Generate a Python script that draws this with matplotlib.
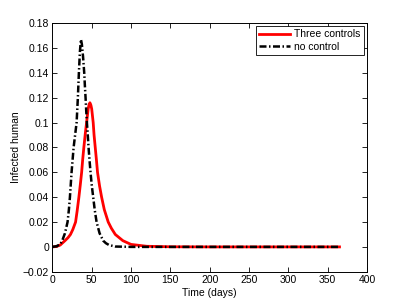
import matplotlib
matplotlib.use("Agg")
import matplotlib.pyplot as plt
from matplotlib.ticker import FuncFormatter, MultipleLocator

plt.rcParams['font.family'] = ['Liberation Sans', 'DejaVu Sans']

# no control series
t_nc = [0, 5, 10, 12.5, 16, 19.3, 21, 22.3, 24.4, 25.7, 27, 28.9, 30.8, 31.6,
        32.4, 33.7, 35, 36.3, 37.5, 39, 40.5, 41.3, 42.2, 43, 43.9, 45, 46,
        47.2, 48.5, 50, 51.9, 53.8, 56.2, 60, 64.6, 68, 72, 80,
        100, 150, 200, 250, 300, 365]
v_nc = [0, 0.0005, 0.002, 0.005, 0.011, 0.02, 0.03, 0.04, 0.06, 0.07, 0.08,
        0.09, 0.10, 0.11, 0.12, 0.14, 0.157, 0.167, 0.163, 0.153, 0.14, 0.13,
        0.12, 0.11, 0.10, 0.09, 0.08, 0.07, 0.06, 0.05, 0.04, 0.03, 0.02,
        0.011, 0.005, 0.003, 0.0015, 0.0003, 0, 0, 0, 0, 0, 0]

# three controls series
t_tc = [0, 5, 10, 16, 20, 23, 26, 29.5, 31.5, 33.7, 35.5, 37.2, 38.5, 40, 42,
        43.5, 45.5, 46.5, 47.7, 49, 50, 51.9, 53, 54.5, 56, 57.4, 60, 62.6,
        66, 68, 71, 75, 80, 89.6, 100, 120, 150, 200, 250, 300, 365]
v_tc = [0, 0.0003, 0.0015, 0.005, 0.0075, 0.01, 0.014, 0.02, 0.029, 0.04,
        0.05, 0.06, 0.07, 0.08, 0.092, 0.10, 0.111, 0.114, 0.116, 0.114,
        0.111, 0.10, 0.09, 0.08, 0.07, 0.06, 0.049, 0.04, 0.03, 0.026, 0.02,
        0.015, 0.01, 0.005, 0.002, 0.0005, 0.0001, 0, 0, 0, 0]

labels = ["Three controls", "no control"]
x_label = "Time (days)"
y_label = "Infected human"

fig = plt.figure(figsize=(4.06, 3.05), dpi=100)
ax = fig.add_axes([0.129, 0.109, 0.775, 0.815])

ax.plot(t_tc, v_tc, color='#ff0000', lw=2.0, label=labels[0])
ax.plot(t_nc, v_nc, color='black', lw=1.8, ls=(0, (2.8, 1.0, 0.6, 1.0)),
        label=labels[1])

ax.set_xlim(0, 400)
ax.set_ylim(-0.02, 0.18)
ax.xaxis.set_major_locator(MultipleLocator(50))
ax.yaxis.set_major_locator(MultipleLocator(0.02))

def fmt(v, pos):
    s = '%g' % round(v, 4)
    return s.replace('-', '\u2212')

ax.yaxis.set_major_formatter(FuncFormatter(fmt))
ax.xaxis.set_major_formatter(FuncFormatter(fmt))
ax.tick_params(direction='in', top=True, right=True, length=3.5, width=0.6,
               labelsize=7.5, pad=2.5)
for s in ax.spines.values():
    s.set_linewidth(0.7)

ax.set_xlabel(x_label, fontsize=7.5, labelpad=2)
ax.set_ylabel(y_label, fontsize=7.5, labelpad=1)

leg = ax.legend(loc='upper right', fontsize=7.5, fancybox=False, framealpha=1,
                edgecolor='black', borderaxespad=0.3, handlelength=3.0,
                borderpad=0.3, labelspacing=0.2, handletextpad=0.4)
leg.get_frame().set_linewidth(0.6)

fig.savefig("out.png", dpi=100)
